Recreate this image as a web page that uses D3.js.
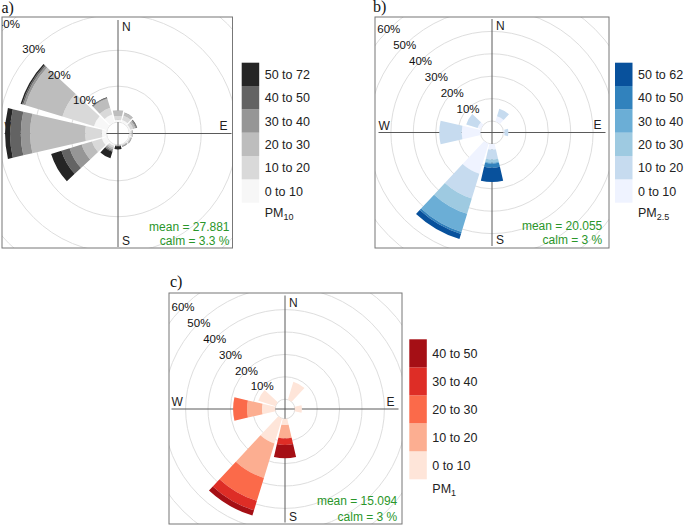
<!DOCTYPE html>
<html>
<head>
<meta charset="utf-8">
<script src="https://cdn.jsdelivr.net/npm/d3@7"></script>
<style>
  body { margin: 0; background: #fff; }
  svg { font-family: "Liberation Sans", Arial, sans-serif; }
</style>
</head>
<body>
<svg id="chart" width="685" height="526"></svg>
<script>
// wind sectors (degrees from north), 30 degree bins
var directions = [0, 30, 60, 90, 120, 150, 180, 210, 240, 270, 300, 330];

// percentage ring labels
var ticksA = [10, 20, 30, 40];
var ticksB = [10, 20, 30, 40, 50, 60];
var ticksC = [10, 20, 30, 40, 50, 60];

// concentration bins
var binsA = ["0 to 10", "10 to 20", "20 to 30", "30 to 40", "40 to 50", "50 to 72"];
var binsB = ["0 to 10", "10 to 20", "20 to 30", "30 to 40", "40 to 50", "50 to 62"];
var binsC = ["0 to 10", "10 to 20", "20 to 30", "30 to 40", "40 to 50"];

// frequency (%) per sector, one value per concentration bin
var pm10 = [
  [0.6, 1.1, 1.5, 0.1, 0, 0],
  [0.7, 1.3, 0.8, 0.05, 0.05, 0],
  [0.4, 0.8, 0.6, 0.3, 0.2, 0.1],
  [0.3, 0.3, 0.3, 0.05, 0.05, 0],
  [0.2, 0.25, 0.2, 0.15, 0.05, 0],
  [0.1, 0.15, 0.2, 0.2, 0.05, 0],
  [0.05, 0.05, 0.05, 0.05, 0.15, 0.9],
  [0.4, 0.5, 0.5, 0.4, 0.3, 1.9],
  [1.5, 2.9, 3.0, 3.5, 2.4, 3.0],
  [1.3, 4.7, 15.3, 2.6, 3.0, 1.4],
  [3.8, 9.2, 10.8, 0.6, 0.4, 0.4],
  [2.3, 2.0, 2.6, 0.2, 0.15, 0.15]
];
var pm25 = [
  [0, 0, 0, 0, 0, 0],
  [2.5, 3.5, 0, 0, 0, 0],
  [0, 0, 0, 0, 0, 0],
  [0.5, 1.7, 0, 0, 0, 0],
  [0, 0, 0, 0, 0, 0],
  [0, 0, 0, 0, 0, 0],
  [2.5, 4.4, 1.4, 0.4, 1.9, 6.4],
  [14.1, 11.6, 7.1, 8.5, 0.9, 2.4],
  [0, 0, 0, 0, 0, 0],
  [8.4, 10.0, 0, 0, 0, 0],
  [1.6, 5.3, 0, 0, 0, 0],
  [0, 0, 0, 0, 0, 0]
];
var pm1 = [
  [0, 0, 0, 0, 0],
  [8.4, 0, 0, 0, 0],
  [0, 0, 0, 0, 0],
  [3.2, 0, 0, 0, 0],
  [0, 0, 0, 0, 0],
  [0, 0, 0, 0, 0],
  [2.8, 5.9, 0.1, 2.9, 5.9],
  [11.7, 16.1, 10.7, 4.4, 2.5],
  [0, 0, 0, 0, 0],
  [5.9, 6.7, 6.2, 0, 0],
  [8.1, 0, 0, 0, 0],
  [0, 0, 0, 0, 0]
];

var statsA = ["mean = 27.881", "calm = 3.3 %"];
var statsB = ["mean = 20.055", "calm = 3 %"];
var statsC = ["mean = 15.094", "calm = 3 %"];

var greys = ["#f7f7f7", "#d9d9d9", "#bdbdbd", "#969696", "#636363", "#252525"];
var blues = ["#eff3ff", "#c6dbef", "#9ecae1", "#6baed6", "#3182bd", "#08519c"];
var reds  = ["#fee5d9", "#fcae91", "#fb6a4a", "#de2d26", "#a50f15"];

var svg = d3.select("#chart");
var HALF = 13; // half width of a wedge, degrees

function drawRose(p) {
  var box = p.box;
  svg.append("clipPath").attr("id", "clip-" + p.id)
    .append("rect").attr("x", box[0]).attr("y", box[1]).attr("width", box[2]).attr("height", box[3]);

  var r = d3.scaleLinear().domain([0, 10]).range([p.r0, p.r0 + p.k * 10]);

  var g = svg.append("g").attr("clip-path", "url(#clip-" + p.id + ")")
    .append("g").attr("transform", "translate(" + p.cx + "," + p.cy + ")");

  // grid circles
  g.selectAll("circle.grid").data([0].concat(p.ticks)).enter().append("circle")
    .attr("r", function(d) { return r(d); })
    .attr("fill", "none").attr("stroke", "#dedede").attr("stroke-width", 1);

  // compass axes
  var L = 113.5;
  g.append("line").attr("x1", -L).attr("x2", L).attr("y1", 0).attr("y2", 0)
    .attr("stroke", "#5a5a5a").attr("stroke-width", 1);
  g.append("line").attr("x1", 0).attr("x2", 0).attr("y1", -L).attr("y2", L)
    .attr("stroke", "#5a5a5a").attr("stroke-width", 1);

  var compass = [
    {t: "N", x: 4, y: -102.5, a: "start"},
    {t: "E", x: 109.5, y: -3.5, a: "end"},
    {t: "S", x: 4, y: 111.5, a: "start"},
    {t: "W", x: -113.5, y: -3, a: "start"}
  ];
  g.selectAll("text.compass").data(compass).enter().append("text")
    .attr("x", function(d) { return d.x; }).attr("y", function(d) { return d.y; })
    .attr("text-anchor", function(d) { return d.a; })
    .attr("font-size", 12).attr("fill", "#222").text(function(d) { return d.t; });

  // stacked wedges
  var segs = [];
  p.freq.forEach(function(row, i) {
    var cum = 0;
    row.forEach(function(v, j) {
      if (v > 0) segs.push({dir: directions[i], bin: j, y0: cum, y1: cum + v});
      cum += v;
    });
  });
  var rad = Math.PI / 180;
  var arc = d3.arc()
    .innerRadius(function(d) { return r(d.y0); })
    .outerRadius(function(d) { return r(d.y1); })
    .startAngle(function(d) { return (d.dir - HALF) * rad; })
    .endAngle(function(d) { return (d.dir + HALF) * rad; });
  g.selectAll("path.seg").data(segs).enter().append("path")
    .attr("d", arc)
    .attr("fill", function(d) { return p.colors[d.bin]; });

  // percentage labels along the NW diagonal
  g.selectAll("text.pct").data(p.ticks).enter().append("text")
    .attr("x", function(d) { return -r(d) * Math.SQRT1_2; })
    .attr("y", function(d) { return -r(d) * Math.SQRT1_2; })
    .attr("dy", "0.36em").attr("text-anchor", "middle")
    .attr("font-size", 11.5).attr("fill", "#111")
    .text(function(d) { return d + "%"; });

  // frame
  svg.append("rect").attr("x", box[0]).attr("y", box[1]).attr("width", box[2]).attr("height", box[3])
    .attr("fill", "none").attr("stroke", "#777").attr("stroke-width", 1);

  // statistics
  svg.selectAll(null).data(p.stats).enter().append("text")
    .attr("x", p.statX).attr("y", function(d, i) { return p.statY[i]; })
    .attr("text-anchor", "end").attr("font-size", 12).attr("fill", "#2a962a")
    .text(function(d) { return d; });

  // panel letter
  svg.append("text").attr("x", p.letterX).attr("y", p.letterY)
    .attr("font-family", "'Liberation Serif', 'Times New Roman', serif")
    .attr("font-size", 16).attr("fill", "#111").text(p.letter);

  // legend
  var n = p.bins.length;
  var lh = 140 / n;
  var leg = svg.append("g").attr("transform", "translate(" + p.legX + "," + p.legY + ")");
  var items = p.bins.map(function(b, i) { return {label: b, color: p.colors[i], pos: n - 1 - i}; });
  leg.selectAll("rect").data(items).enter().append("rect")
    .attr("x", 0).attr("y", function(d) { return d.pos * lh; })
    .attr("width", 17.5).attr("height", lh)
    .attr("fill", function(d) { return d.color; });
  leg.selectAll("text.lab").data(items).enter().append("text")
    .attr("x", 23).attr("y", function(d) { return d.pos * lh + lh / 2; })
    .attr("dy", "0.36em").attr("font-size", 12.5).attr("fill", "#222")
    .text(function(d) { return d.label; });
  var t = leg.append("text").attr("x", 23).attr("y", 140 + 14).attr("font-size", 12.5).attr("fill", "#222");
  t.append("tspan").text("PM");
  t.append("tspan").attr("font-size", 9).attr("dy", 3).text(p.sub);
}

drawRose({id: "a", box: [2, 17, 230.5, 231], cx: 118, cy: 133.5, r0: 11.5, k: 3.585,
  ticks: ticksA, freq: pm10, colors: greys, bins: binsA, sub: "10",
  stats: statsA, statX: 229.5, statY: [230.7, 245],
  letter: "a)", letterX: 1.5, letterY: 12.5, legX: 241.7, legY: 62.7});

drawRose({id: "b", box: [375, 17, 234, 231], cx: 492, cy: 132.5, r0: 11.5, k: 2.24,
  ticks: ticksB, freq: pm25, colors: blues, bins: binsB, sub: "2.5",
  stats: statsB, statX: 602.3, statY: [230, 244.3],
  letter: "b)", letterX: 373, letterY: 12, legX: 615, legY: 62.7});

drawRose({id: "c", box: [169, 293, 233, 231], cx: 285, cy: 409, r0: 9.8, k: 2.24,
  ticks: ticksC, freq: pm1, colors: reds, bins: binsC, sub: "1",
  stats: statsC, statX: 397.3, statY: [505, 520.7],
  letter: "c)", letterX: 170, letterY: 287, legX: 409.3, legY: 339.3});
</script>
</body>
</html>
